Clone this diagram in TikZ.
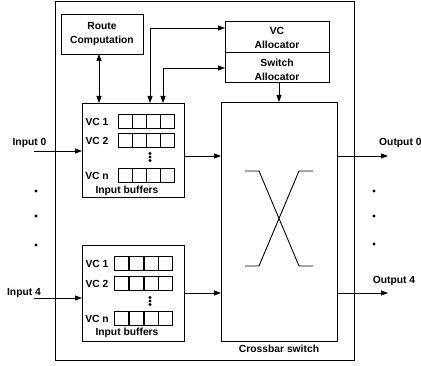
\documentclass[tikz,border=0pt]{standalone}
\usepackage{fontspec}
\setmainfont{Liberation Sans}
\usetikzlibrary{arrows.meta}
\begin{document}
\begin{tikzpicture}[x=1pt,y=-1pt,
  box/.style={draw, line width=0.8pt, anchor=north west, inner sep=0pt, outer sep=0pt},
  lbl/.style={font=\fontsize{10.3}{14}\selectfont\bfseries, inner sep=0pt, align=center},
  arr/.style={line width=0.8pt, -{Triangle[length=7pt,width=5pt]}},
  darr/.style={line width=0.8pt, {Triangle[length=7pt,width=5pt]}-{Triangle[length=7pt,width=5pt]}},
  cell/.style={draw, line width=0.7pt, minimum width=14pt, minimum height=14.5pt, inner sep=0pt, outer sep=0pt, anchor=north west},
  bigdot/.style={circle, fill, inner sep=0pt, minimum size=3.4pt},
  smalldot/.style={circle, fill, inner sep=0pt, minimum size=3.2pt},
  xline/.style={line width=0.9pt}
]
\useasboundingbox (0,0) rectangle (421,366);

% outer router box
\node[box, minimum width=299pt, minimum height=359pt] (outer) at (55,1) {};

% route computation
\node[box, minimum width=82pt, minimum height=40pt] (rc) at (61,14) {};
\node[lbl] (rct) at (102,34.5) {Route\\Computation};

% allocators
\node[box, minimum width=104pt, minimum height=31pt] (vca) at (225,21) {};
\node[lbl] (vcat) at (277,37.5) {VC\\Allocator};
\node[box, minimum width=104pt, minimum height=30pt] (swa) at (225,52) {};
\node[lbl] (swat) at (277,69.5) {Switch\\Allocator};

% input buffers (upper)
\node[box, minimum width=102pt, minimum height=94pt] (ib1) at (82,103) {};
\node[lbl] (ib1t) at (127,191) {Input buffers};
\foreach \r/\yy/\t in {a/114/VC 1, b/133/VC 2, n/168/VC n}{
  \node[lbl] (ib1l\r) at (97,\yy+7.5) {\t};
  \foreach \c in {0,1,2,3}{
    \node[cell] (ib1\r\c) at (118+14*\c,\yy) {};
  }
}
\foreach \yy in {153.5,157,160.5}{ \node[smalldot] (ib1d\yy) at (150,\yy) {}; }

% input buffers (lower)
\node[box, minimum width=102pt, minimum height=96pt] (ib2) at (82,245) {};
\node[lbl] (ib2t) at (127,333) {Input buffers};
\foreach \r/\yy/\t in {a/256/VC 1, b/276/VC 2, n/311/VC n}{
  \node[lbl] (ib2l\r) at (97,\yy+7.5) {\t};
  \foreach \c in {0,1,2,3}{
    \node[cell] (ib2\r\c) at (114.5+14.75*\c,\yy) {};
  }
}
\foreach \yy in {297.5,301,304.5}{ \node[smalldot] (ib2d\yy) at (150,\yy) {}; }

% crossbar
\node[box, minimum width=116pt, minimum height=239pt] (xbar) at (221,102) {};
\node[lbl] (xbart) at (279,349) {Crossbar switch};
\draw[xline] (245,171) -- (259,171) -- (299,266) -- (313,266);
\draw[xline] (313,171) -- (299,171) -- (259,266) -- (245,266);

% helper coordinates
\coordinate (rcx) at (99,0);
\coordinate (a1) at (150,28);
\coordinate (a2) at (163,68);
\coordinate (a3) at (279,0);
\coordinate (in0) at (34,151);
\coordinate (in4) at (34,298);
\coordinate (o1) at (388,156);
\coordinate (o4) at (388,293);

% connectors
\draw[darr] (rc.south -| rcx) -- (ib1.north -| rcx);
\draw[darr] (ib1.north -| a1) |- (vca.west |- a1);
\draw[darr] (ib1.north -| a2) |- (swa.west |- a2);
\draw[arr] (swa.south -| a3) -- (xbar.north -| a3);
\draw[arr] (in0) -- (ib1.west |- in0);
\draw[arr] (in4) -- (ib2.west |- in4);
\draw[arr] (ib1.east |- o1) -- (xbar.west |- o1);
\draw[arr] (ib2.east |- o4) -- (xbar.west |- o4);
\draw[arr] (xbar.east |- o1) -- (o1);
\draw[arr] (xbar.east |- o4) -- (o4);

% labels
\node[lbl] (in0t) at (29.5,143) {Input 0};
\node[lbl] (in4t) at (24,293) {Input 4};
\node[lbl, anchor=west] (o1t) at (379,143) {Output 0};
\node[lbl] (o4t) at (394,281) {Output 4};

% dots
\foreach \yy in {191,216,245}{ \node[bigdot] (ld\yy) at (36,\yy) {}; }
\foreach \yy in {191,216,244}{ \node[bigdot] (rd\yy) at (374,\yy) {}; }
\end{tikzpicture}
\end{document}
